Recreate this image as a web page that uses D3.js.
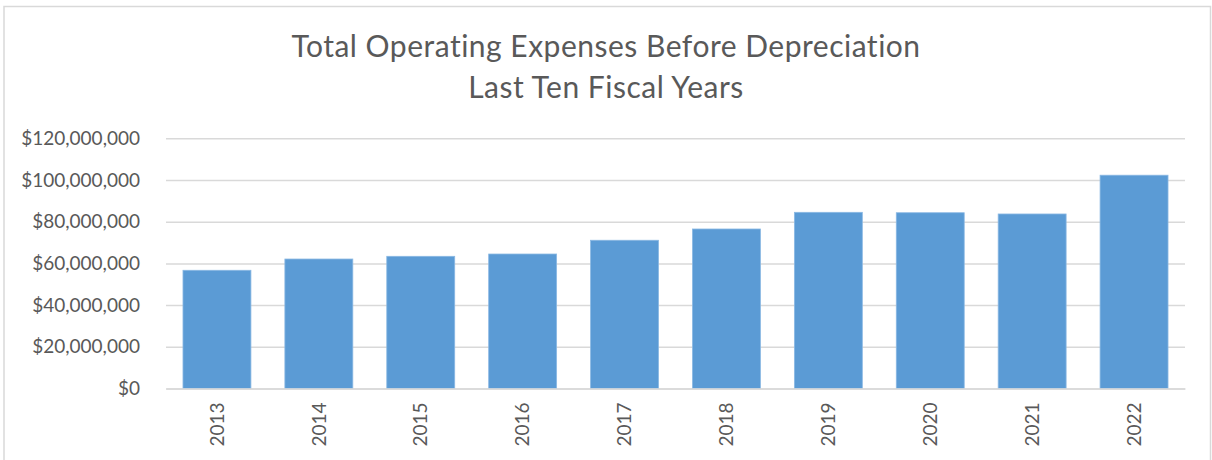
<!DOCTYPE html>
<html>
<head>
<meta charset="utf-8">
<script src="https://cdn.jsdelivr.net/npm/d3@7"></script>
<style>
  html, body { margin: 0; padding: 0; background: #fff; }
  svg { display: block; }
  text { font-family: Lato, "Open Sans", sans-serif; fill: #595959; }
</style>
</head>
<body>
<svg id="chart" width="1212" height="460"></svg>
<script>
const years = ["2013", "2014", "2015", "2016", "2017", "2018", "2019", "2020", "2021", "2022"];
const expenses = [56700000, 62100000, 63400000, 64500000, 71100000, 76500000, 84500000, 84300000, 83700000, 102300000];
const yTicks = [0, 20000000, 40000000, 60000000, 80000000, 100000000, 120000000];
const titleLines = ["Total Operating Expenses Before Depreciation", "Last Ten Fiscal Years"];

const svg = d3.select("#chart");
const margin = { left: 166, right: 1185, top: 138.3, bottom: 388.5 };

// outer frame (bottom edge falls below the picture)
svg.append("rect")
  .attr("x", 4).attr("y", 6.5)
  .attr("width", 1206.5).attr("height", 470)
  .attr("fill", "none")
  .attr("stroke", "#d9d9d9")
  .attr("stroke-width", 1.5);

const x = d3.scaleBand()
  .domain(years)
  .range([margin.left, margin.right])
  .paddingInner(1 / 3)
  .paddingOuter(1 / 6);

const y = d3.scaleLinear()
  .domain([0, 120000000])
  .range([margin.bottom, margin.top]);

const fmt = (v) => "$" + d3.format(",")(v);

// gridlines + y labels
const yAxis = svg.append("g")
  .attr("transform", `translate(${margin.left},0)`)
  .call(d3.axisLeft(y).tickValues(yTicks).tickFormat(fmt)
    .tickSize(-(margin.right - margin.left)).tickPadding(26));
yAxis.select(".domain").remove();
yAxis.selectAll(".tick line").attr("stroke", "#d9d9d9").attr("stroke-width", 1.5);
yAxis.selectAll(".tick text")
  .style("font-family", "Lato, 'Open Sans', sans-serif")
  .style("font-size", "19px")
  .attr("fill", "#595959");

// bars
svg.append("g")
  .selectAll("rect")
  .data(years.map((yr, i) => ({ yr, v: expenses[i] })))
  .join("rect")
  .attr("x", (d) => x(d.yr))
  .attr("y", (d) => y(d.v))
  .attr("width", x.bandwidth())
  .attr("height", (d) => y(0) - y(d.v))
  .attr("fill", "#5b9bd5")
  .attr("stroke", "#8ab8e3")
  .attr("stroke-width", 0.8);

// x axis
const xAxis = svg.append("g")
  .attr("transform", `translate(0,${margin.bottom})`)
  .call(d3.axisBottom(x).tickSize(0).tickPadding(0));
xAxis.select(".domain").attr("stroke", "#d9d9d9").attr("stroke-width", 1.5);
xAxis.selectAll(".tick text")
  .style("font-family", "Lato, 'Open Sans', sans-serif")
  .style("font-size", "19px")
  .attr("fill", "#595959")
  .attr("text-anchor", "end")
  .attr("dy", "0.35em")
  .attr("transform", "translate(0,14) rotate(-90)");

// title
svg.append("g")
  .selectAll("text")
  .data(titleLines)
  .join("text")
  .attr("x", 606)
  .attr("y", (d, i) => 57 + i * 41.3)
  .attr("text-anchor", "middle")
  .style("font-size", "30px")
  .style("letter-spacing", "0.5px")
  .text((d) => d);
</script>
</body>
</html>
